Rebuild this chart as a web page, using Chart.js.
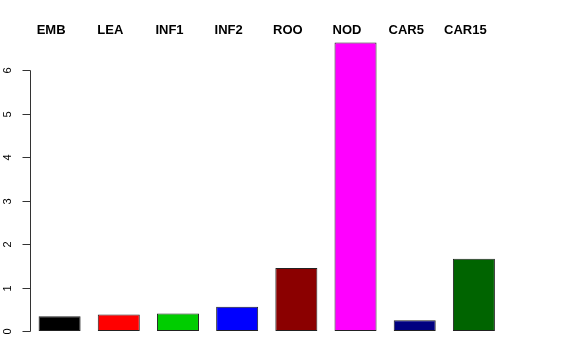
<!DOCTYPE html>
<html>
<head>
<meta charset="utf-8">
<script src="https://cdn.jsdelivr.net/npm/chart.js@4"></script>
<style>
html,body{margin:0;padding:0;background:#fff;}
#wrap{width:576px;height:360px;}
</style>
</head>
<body>
<div id="wrap"><canvas id="c" width="576" height="360"></canvas></div>
<script>
const categories = ["EMB","LEA","INF1","INF2","ROO","NOD","CAR5","CAR15"];
const values = [0.34, 0.38, 0.40, 0.56, 1.45, 6.63, 0.25, 1.66];
const barColors = ["#000000","#FF0000","#00CD00","#0000FF","#8B0000","#FF00FF","#000080","#006400"];
const yTicks = [0,1,2,3,4,5,6];

const rAxes = {
  id: 'rAxes',
  afterDraw(chart) {
    const ctx = chart.ctx;
    const y = chart.scales.y;
    const x = chart.scales.x;
    const axX = chart.chartArea.left - 0.5;
    ctx.save();
    ctx.strokeStyle = '#333';
    ctx.lineWidth = 1;
    ctx.beginPath();
    ctx.moveTo(Math.round(axX) + 0.5, Math.round(y.getPixelForValue(yTicks[0])) + 0.5);
    ctx.lineTo(Math.round(axX) + 0.5, Math.round(y.getPixelForValue(yTicks[yTicks.length-1])) + 0.5);
    ctx.stroke();
    ctx.fillStyle = '#000';
    ctx.font = '11px "Liberation Sans", Arial, sans-serif';
    ctx.textAlign = 'center';
    ctx.textBaseline = 'middle';
    yTicks.forEach(t => {
      const py = Math.round(y.getPixelForValue(t)) + 0.5;
      ctx.beginPath();
      ctx.moveTo(Math.round(axX) + 0.5, py);
      ctx.lineTo(Math.round(axX) - 7.5, py);
      ctx.stroke();
      ctx.save();
      ctx.translate(7.5, py);
      ctx.rotate(-Math.PI/2);
      ctx.fillText(String(t), 0, 0);
      ctx.restore();
    });
    ctx.font = 'bold 13px "Liberation Sans", Arial, sans-serif';
    ctx.textBaseline = 'middle';
    categories.forEach((c, i) => {
      const px = x.getPixelForValue(i) - 8.5;
      ctx.fillText(c, px, 30);
    });
    ctx.restore();
  }
};

new Chart(document.getElementById('c'), {
  type: 'bar',
  data: {
    labels: categories,
    datasets: [{
      data: values,
      backgroundColor: barColors,
      borderColor: '#222',
      borderWidth: 1,
      borderSkipped: false,
      barPercentage: 0.71,
      categoryPercentage: 1.0
    }]
  },
  options: {
    responsive: false,
    animation: false,
    events: [],
    layout: { padding: { left: 30, right: 72.5, top: 26.5, bottom: 29 } },
    plugins: { legend: { display: false }, tooltip: { enabled: false } },
    scales: {
      x: { display: false },
      y: { display: false, min: 0, max: 7 }
    }
  },
  plugins: [rAxes]
});
</script>
</body>
</html>
